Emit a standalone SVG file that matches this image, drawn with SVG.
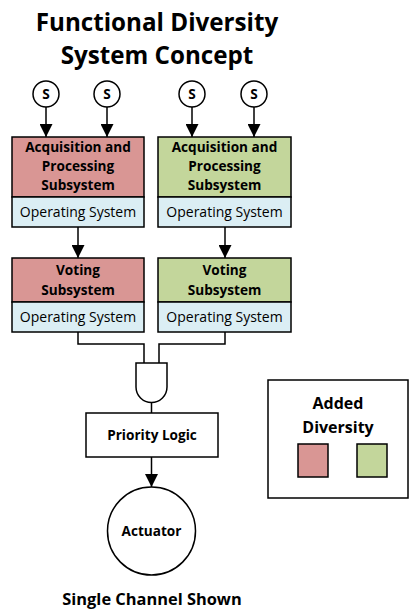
<svg xmlns="http://www.w3.org/2000/svg" width="413" height="611" viewBox="0 0 413 611">
<defs>
<style>
text{font-family:"Open Sans","Noto Sans",sans-serif;fill:#000;text-anchor:middle}
.b{font-weight:bold}
.t{font-size:24.2px;font-weight:bold}
.l{font-size:13.6px;font-weight:bold}
.os{font-size:14px}
.box{stroke:#000;stroke-width:1.5}
.red{fill:#D99694}
.grn{fill:#C3D69B}
.blu{fill:#DBEEF4}
.w{fill:#fff;stroke:#000;stroke-width:1.5}
.c{fill:none;stroke:#000;stroke-width:1.5}
</style>
<marker id="ah2" viewBox="0 0 10 10" refX="10" refY="5" markerWidth="13" markerHeight="13" markerUnits="userSpaceOnUse" orient="auto">
<path d="M0,0 L10,5 L0,10 z" fill="#000"/>
</marker>
</defs>
<g id="title">
<text class="t" x="157" y="31">Functional Diversity</text>
<text class="t" x="157" y="64">System Concept</text>
</g>
<g id="connectors">
<line class="c" x1="46" y1="107" x2="46" y2="137" marker-end="url(#ah2)"/>
<line class="c" x1="107" y1="107" x2="107" y2="137" marker-end="url(#ah2)"/>
<line class="c" x1="192" y1="107" x2="192" y2="137" marker-end="url(#ah2)"/>
<line class="c" x1="254" y1="107" x2="254" y2="137" marker-end="url(#ah2)"/>
<line class="c" x1="78" y1="227" x2="78" y2="258" marker-end="url(#ah2)"/>
<line class="c" x1="225" y1="227" x2="225" y2="258" marker-end="url(#ah2)"/>
<polyline class="c" points="78,332 78,344 144,344 144,363"/>
<polyline class="c" points="225,332 225,344 159,344 159,363"/>
<line class="c" x1="151.5" y1="402" x2="151.5" y2="413"/>
<line class="c" x1="151.5" y1="457" x2="151.5" y2="487" marker-end="url(#ah2)"/>
</g>
<g id="s1"><circle class="w" cx="46" cy="94" r="13"/><text class="l" x="46" y="99">S</text></g>
<g id="s2"><circle class="w" cx="107" cy="94" r="13"/><text class="l" x="107" y="99">S</text></g>
<g id="s3"><circle class="w" cx="192" cy="94" r="13"/><text class="l" x="192" y="99">S</text></g>
<g id="s4"><circle class="w" cx="254" cy="94" r="13"/><text class="l" x="254" y="99">S</text></g>
<g id="acq-red">
<rect class="box red" x="12" y="137" width="132" height="60"/>
<text class="l" x="78" y="152">Acquisition and</text>
<text class="l" x="78" y="171">Processing</text>
<text class="l" x="78" y="190">Subsystem</text>
<rect class="box blu" x="12" y="197" width="132" height="30"/>
<text class="os" x="78" y="217">Operating System</text>
</g>
<g id="acq-green">
<rect class="box grn" x="158" y="137" width="133" height="60"/>
<text class="l" x="224.5" y="152">Acquisition and</text>
<text class="l" x="224.5" y="171">Processing</text>
<text class="l" x="224.5" y="190">Subsystem</text>
<rect class="box blu" x="158" y="197" width="133" height="30"/>
<text class="os" x="224.5" y="217">Operating System</text>
</g>
<g id="vote-red">
<rect class="box red" x="12" y="258" width="132" height="44"/>
<text class="l" x="78" y="275">Voting</text>
<text class="l" x="78" y="295">Subsystem</text>
<rect class="box blu" x="12" y="302" width="132" height="30"/>
<text class="os" x="78" y="322">Operating System</text>
</g>
<g id="vote-green">
<rect class="box grn" x="158" y="258" width="133" height="44"/>
<text class="l" x="224.5" y="275">Voting</text>
<text class="l" x="224.5" y="295">Subsystem</text>
<rect class="box blu" x="158" y="302" width="133" height="30"/>
<text class="os" x="224.5" y="322">Operating System</text>
</g>
<g id="and-gate">
<path class="w" d="M136,363 H167 V387 A15.5,15.5 0 0 1 136,387 Z"/>
</g>
<g id="priority">
<rect class="w" x="86" y="413" width="132" height="44"/>
<text class="l" x="152" y="440">Priority Logic</text>
</g>
<g id="actuator">
<circle class="w" cx="151.5" cy="531" r="44"/>
<text class="l" x="151.5" y="536">Actuator</text>
</g>
<g id="legend">
<rect class="w" x="268" y="380" width="140" height="118"/>
<text class="b" style="font-size:16px" x="338" y="409">Added</text>
<text class="b" style="font-size:16px" x="338" y="433">Diversity</text>
<rect class="box red" x="298" y="444" width="30" height="33"/>
<rect class="box grn" x="357" y="444" width="30" height="33"/>
</g>
<g id="footer">
<text class="b" style="font-size:16.4px" x="152" y="605">Single Channel Shown</text>
</g>
</svg>
